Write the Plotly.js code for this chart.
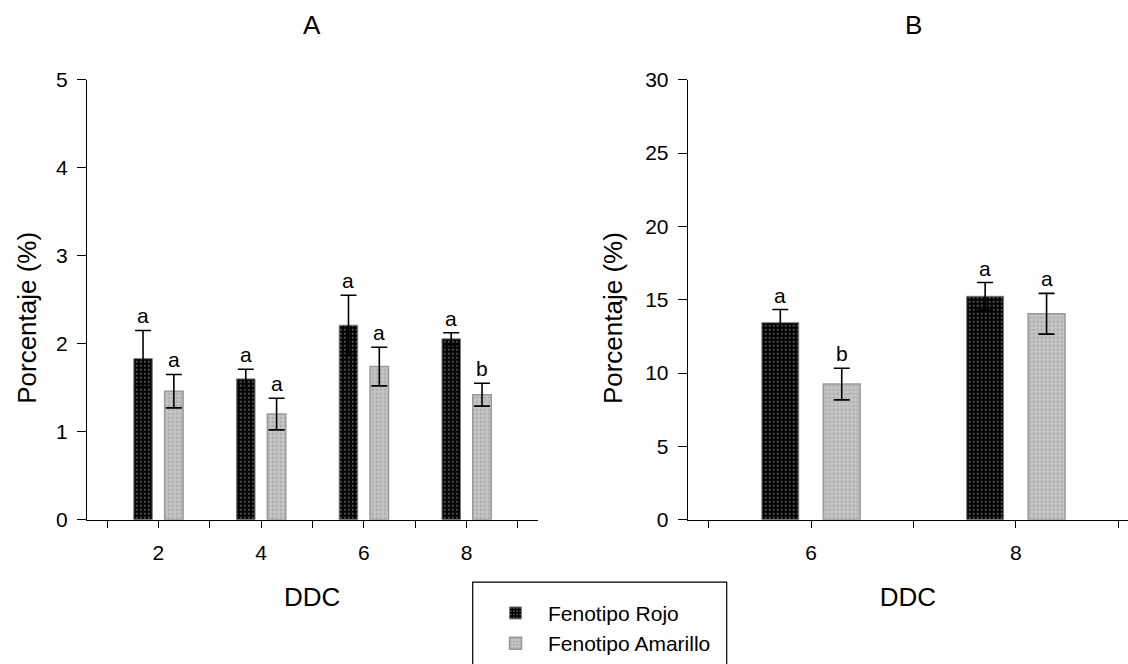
<!DOCTYPE html>
<html>
<head>
<meta charset="utf-8">
<script src="https://cdn.plot.ly/plotly-3.0.1.min.js"></script>
<style>html,body{margin:0;padding:0;background:#fff;}#chart{width:1128px;height:664px;}</style>
</head>
<body>
<div id="chart"></div>
<script>
// ---- Data ----
const seriesNames = ['Fenotipo Rojo', 'Fenotipo Amarillo'];

// Panel A
const daysA = [2, 4, 6, 8];
const rojoA = [1.83, 1.60, 2.21, 2.055];
const rojoErrA = [0.32, 0.11, 0.34, 0.07];
const amarilloA = [1.46, 1.20, 1.74, 1.42];
const amarilloErrA = [0.19, 0.18, 0.22, 0.13];
const rojoLettersA = ['a', 'a', 'a', 'a'];
const amarilloLettersA = ['a', 'a', 'a', 'b'];
const tickValsA = [1, 2, 3, 4, 5, 6, 7, 8, 9];
const tickTextA = ['', '2', '', '4', '', '6', '', '8', ''];

// Panel B
const daysB = [6, 8];
const rojoB = [13.43, 15.23];
const rojoErrB = [0.90, 0.94];
const amarilloB = [9.25, 14.04];
const amarilloErrB = [1.08, 1.39];
const rojoLettersB = ['a', 'a'];
const amarilloLettersB = ['b', 'a'];
const tickValsB = [5, 6, 7, 8, 9];
const tickTextB = ['', '6', '', '8', ''];

const panelTitles = ['A', 'B'];
const xTitle = 'DDC';
const yTitle = 'Porcentaje (%)';

// ---- Styles ----
const FONT = 'Liberation Sans, Arial, Helvetica, sans-serif';
const rojoMarker = {
  color: '#000000',
  line: {color: '#7a7a7a', width: 1},
  pattern: {shape: '.', fgcolor: '#6e6e6e', bgcolor: '#000000', size: 4, solidity: 0.18}
};
const amarilloMarker = {
  color: '#c4c4c4',
  line: {color: '#9a9a9a', width: 1.5},
  pattern: {shape: '.', fgcolor: '#8e8e8e', bgcolor: '#c4c4c4', size: 4, solidity: 0.15}
};
function err(arr) {
  return {type: 'data', array: arr, visible: true, color: '#000', thickness: 1.6, width: 8};
}

const traces = [
  {type: 'bar', name: seriesNames[0], x: daysA, y: rojoA, error_y: err(rojoErrA),
   marker: rojoMarker, xaxis: 'x', yaxis: 'y', showlegend: true, legendgroup: 'r', hoverinfo: 'skip'},
  {type: 'bar', name: seriesNames[1], x: daysA, y: amarilloA, error_y: err(amarilloErrA),
   marker: amarilloMarker, xaxis: 'x', yaxis: 'y', showlegend: true, legendgroup: 'a', hoverinfo: 'skip'},
  {type: 'bar', name: seriesNames[0], x: daysB, y: rojoB, error_y: err(rojoErrB),
   marker: rojoMarker, xaxis: 'x2', yaxis: 'y2', showlegend: false, legendgroup: 'r', hoverinfo: 'skip'},
  {type: 'bar', name: seriesNames[1], x: daysB, y: amarilloB, error_y: err(amarilloErrB),
   marker: amarilloMarker, xaxis: 'x2', yaxis: 'y2', showlegend: false, legendgroup: 'a', hoverinfo: 'skip'}
];

// significance letters above error bars
const annotations = [];
function addLetters(days, vals, errs, letters, side, xr, yr) {
  for (let i = 0; i < days.length; i++) {
    annotations.push({
      x: days[i] + side * 0.3, y: vals[i] + errs[i], xref: xr, yref: yr,
      text: letters[i], showarrow: false, xanchor: 'center', yanchor: 'bottom',
      yshift: 1, font: {family: FONT, size: 21, color: '#000'}
    });
  }
}
addLetters(daysA, rojoA, rojoErrA, rojoLettersA, -1, 'x', 'y');
addLetters(daysA, amarilloA, amarilloErrA, amarilloLettersA, 1, 'x', 'y');
addLetters(daysB, rojoB, rojoErrB, rojoLettersB, -1, 'x2', 'y2');
addLetters(daysB, amarilloB, amarilloErrB, amarilloLettersB, 1, 'x2', 'y2');

// panel titles
annotations.push({text: panelTitles[0], x: 312 / 1128, y: 1 - 25 / 664, xref: 'paper', yref: 'paper',
  showarrow: false, xanchor: 'center', yanchor: 'middle', font: {family: FONT, size: 26, color: '#000'}});
annotations.push({text: panelTitles[1], x: 913 / 1128, y: 1 - 25 / 664, xref: 'paper', yref: 'paper',
  showarrow: false, xanchor: 'center', yanchor: 'middle', font: {family: FONT, size: 26, color: '#000'}});

// y-axis titles (placed slightly below the axis centre, as in the reference)
annotations.push({text: yTitle, textangle: -90, x: 26.7 / 1128, y: 1 - 322 / 664, xref: 'paper', yref: 'paper',
  showarrow: false, xanchor: 'center', yanchor: 'middle', font: {family: FONT, size: 26, color: '#000'}});
annotations.push({text: yTitle, textangle: -90, x: 613 / 1128, y: 1 - 322 / 664, xref: 'paper', yref: 'paper',
  showarrow: false, xanchor: 'center', yanchor: 'middle', font: {family: FONT, size: 26, color: '#000'}});

function xAxis(domain, range, tv, tt, anchor) {
  return {
    domain: domain, range: range, anchor: anchor, tickmode: 'array', tickvals: tv, ticktext: tt,
    ticks: 'outside', ticklen: 7, tickwidth: 1, tickcolor: '#000', ticklabelstandoff: 7,
    showline: true, linecolor: '#000', linewidth: 1, showgrid: false, zeroline: false,
    tickfont: {family: FONT, size: 21, color: '#000'},
    title: {text: xTitle, font: {family: FONT, size: 26, color: '#000'}, standoff: 24},
    automargin: false, fixedrange: true
  };
}
function yAxis(domain, range, dtick, anchor) {
  return {
    domain: domain, range: range, anchor: anchor, tickmode: 'linear', tick0: 0, dtick: dtick,
    ticks: 'outside', ticklen: 9, tickwidth: 1, tickcolor: '#000', ticklabelstandoff: 5,
    showline: true, linecolor: '#000', linewidth: 1, showgrid: false, zeroline: false,
    tickfont: {family: FONT, size: 21, color: '#000'},
    automargin: false, fixedrange: true
  };
}

const yDom = [(664 - 526) / 664, (664 - 80.7) / 664];
const layout = {
  width: 1128, height: 664,
  margin: {l: 0, r: 0, t: 0, b: 0},
  paper_bgcolor: '#fff', plot_bgcolor: '#fff',
  font: {family: FONT, size: 21, color: '#000'},
  barmode: 'group', bargap: 0.4, bargroupgap: 0.4,
  xaxis: xAxis([86.8 / 1128, 537.5 / 1128], [0.605, 9.38], tickValsA, tickTextA, 'y'),
  yaxis: yAxis(yDom, [0, 5], 1, 'x'),
  xaxis2: xAxis([687.7 / 1128, 1], [4.796, 9.095], tickValsB, tickTextB, 'y2'),
  yaxis2: yAxis(yDom, [0, 30], 5, 'x2'),
  showlegend: true,
  legend: {
    x: 483 / 1128, y: 1 - 600 / 664, xanchor: 'left', yanchor: 'top',
    bgcolor: 'rgba(0,0,0,0)', borderwidth: 0, itemwidth: 55,
    font: {family: FONT, size: 21, color: '#000'}, tracegroupgap: 0, itemclick: false, itemdoubleclick: false
  },
  shapes: [{type: 'rect', xref: 'paper', yref: 'paper', x0: 472.7 / 1128, x1: 726.7 / 1128,
    y0: -0.05, y1: 1 - 589.3 / 664, line: {color: '#000', width: 1.2}, fillcolor: 'rgba(0,0,0,0)', layer: 'below'}],
  annotations: annotations
};

Plotly.newPlot('chart', traces, layout, {displayModeBar: false, staticPlot: true});
</script>
</body>
</html>
